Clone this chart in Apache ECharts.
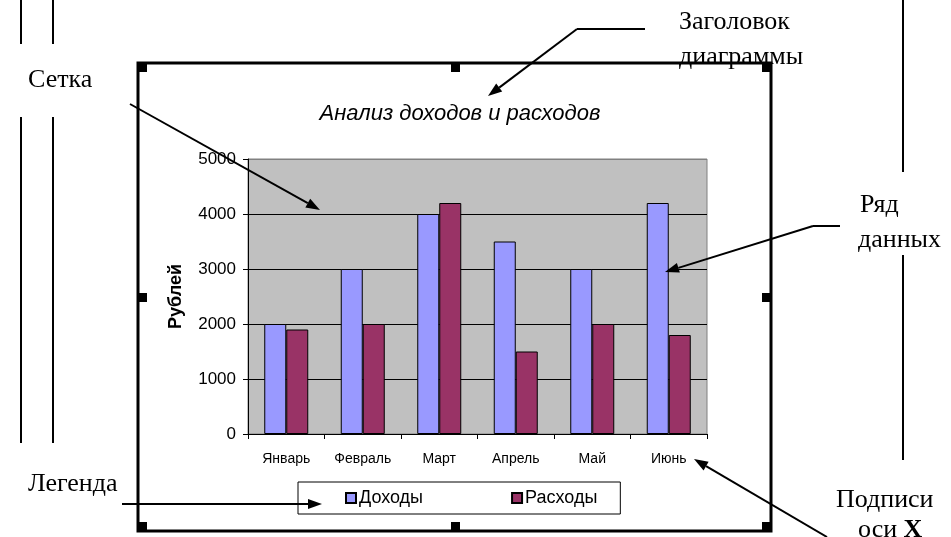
<!DOCTYPE html>
<html>
<head>
<meta charset="utf-8">
<title>Анализ доходов и расходов</title>
<script src="https://cdn.jsdelivr.net/npm/echarts@6/dist/echarts.min.js"></script>
<style>
  html, body { margin: 0; padding: 0; background: #fff; }
  #chart { width: 951px; height: 537px; }
</style>
</head>
<body>
<div id="chart"></div>
<script>
// данные диаграммы
var months = ['Январь', 'Февраль', 'Март', 'Апрель', 'Май', 'Июнь']
var income = [2000, 3000, 4000, 3500, 3000, 4200]   // Доходы
var expense = [1900, 2000, 4200, 1500, 2000, 1800]  // Расходы
var yTicks = [0, 1000, 2000, 3000, 4000, 5000]

var chart = echarts.init(document.getElementById('chart'))

var serif = '26px "Liberation Serif", "Times New Roman", serif'

// стрелка: линия + треугольник на конце
function arrow(x1, y1, x2, y2) {
  var dx = x2 - x1, dy = y2 - y1
  var len = Math.sqrt(dx * dx + dy * dy)
  var ux = dx / len, uy = dy / len
  var hl = 14, hw = 5
  var bx = x2 - ux * hl, by = y2 - uy * hl
  return [
    { type: 'line', shape: { x1: x1, y1: y1, x2: bx, y2: by }, style: { stroke: '#000', lineWidth: 2 }, z: 20 },
    {
      type: 'polygon',
      shape: { points: [[x2, y2], [bx - uy * hw, by + ux * hw], [bx + uy * hw, by - ux * hw]] },
      style: { fill: '#000' },
      z: 20,
    },
  ]
}
function seg(x1, y1, x2, y2) {
  return { type: 'line', shape: { x1: x1, y1: y1, x2: x2, y2: y2 }, style: { stroke: '#000', lineWidth: 2 }, z: 20 }
}
// подпись-выноска, y - середина строки
function note(text, x, y) {
  return {
    type: 'text', x: x, y: y, z: 30,
    style: { text: text, font: serif, fill: '#000', verticalAlign: 'middle' },
  }
}
function handle(x, y) {
  return { type: 'rect', shape: { x: x, y: y, width: 9, height: 9 }, style: { fill: '#000' }, z: 15 }
}

var graphics = [
  // рамка диаграммы
  { type: 'rect', shape: { x: 138, y: 63, width: 633, height: 468 }, style: { fill: 'none', stroke: '#000', lineWidth: 3 }, z: 10 },
  handle(138, 63), handle(451, 63), handle(762, 63),
  handle(138, 293), handle(762, 293),
  handle(138, 522), handle(451, 522), handle(762, 522),
  // вертикальные линии по краям
  seg(21, 0, 21, 44), seg(21, 117, 21, 443),
  seg(53, 0, 53, 44), seg(53, 117, 53, 443),
  seg(903, 0, 903, 172), seg(903, 255, 903, 460),
  // выноски
  seg(577, 29, 645, 29),
  seg(840, 226, 813, 226),
  note('Сетка', 28, 80),
  note('Заголовок', 679, 22),
  note('диаграммы', 679, 57),
  note('Ряд', 860, 205),
  note('данных', 858, 240),
  note('Легенда', 28, 484),
  note('Подписи', 836, 500),
  {
    type: 'text', x: 858, y: 530, z: 30,
    style: {
      text: 'оси {b|X}',
      font: serif,
      fill: '#000',
      verticalAlign: 'middle',
      rich: { b: { fontFamily: '"Liberation Serif", serif', fontSize: 26, fontWeight: 'bold' } },
    },
  },
]
graphics = graphics
  .concat(arrow(577, 29, 488, 96))
  .concat(arrow(130, 104, 320, 210))
  .concat(arrow(813, 226, 665, 272))
  .concat(arrow(122, 504, 322, 504))
  .concat(arrow(827, 537, 694, 459))

var option = {
  animation: false,
  backgroundColor: '#fff',
  textStyle: { fontFamily: 'Arial, "Liberation Sans", sans-serif' },
  title: {
    text: 'Анализ доходов и расходов',
    left: 455,
    top: 98,
    textAlign: 'center',
    textStyle: { fontSize: 22, fontStyle: 'italic', fontWeight: 'normal', color: '#000' },
  },
  legend: {
    left: 298,
    top: 482,
    padding: [7, 23, 7, 47],
    itemGap: 88,
    itemWidth: 10,
    itemHeight: 10,
    icon: 'rect',
    borderColor: '#000',
    borderWidth: 1,
    textStyle: { fontSize: 18, color: '#000', padding: [0, 0, 0, -2] },
    data: ['Доходы', 'Расходы'],
  },
  grid: {
    left: 248,
    right: 244,
    top: 159,
    bottom: 103,
    show: true,
    backgroundColor: '#C0C0C0',
    borderColor: '#808080',
    borderWidth: 1,
  },
  xAxis: {
    type: 'category',
    data: months,
    axisLine: { lineStyle: { color: '#000', width: 1 } },
    axisTick: { show: true, length: 5, lineStyle: { color: '#000' } },
    axisLabel: { color: '#000', fontSize: 14, margin: 18 },
  },
  yAxis: {
    type: 'value',
    min: yTicks[0],
    max: yTicks[yTicks.length - 1],
    interval: 1000,
    name: 'Рублей',
    nameLocation: 'middle',
    nameRotate: 90,
    nameGap: 63,
    nameTextStyle: { fontSize: 18, fontWeight: 'bold', color: '#000' },
    axisLine: { show: true, lineStyle: { color: '#000', width: 1 } },
    axisTick: { show: true, length: 5, lineStyle: { color: '#000' } },
    axisLabel: { color: '#000', fontSize: 17, margin: 12, formatter: function (v) { return String(v) } },
    splitLine: {
      show: true,
      // линия на 5000 не нужна - там граница области построения
      lineStyle: { color: ['#000', '#000', '#000', '#000', '#000', '#808080'], width: 1 },
    },
  },
  series: [
    {
      name: 'Доходы',
      type: 'bar',
      data: income,
      barWidth: 22,
      barGap: '0%',
      itemStyle: { color: '#9999FF', borderColor: '#000', borderWidth: 1 },
    },
    {
      name: 'Расходы',
      type: 'bar',
      data: expense,
      barWidth: 22,
      itemStyle: { color: '#993366', borderColor: '#000', borderWidth: 1 },
    },
  ],
  graphic: graphics,
}

chart.setOption(option)
</script>
</body>
</html>
